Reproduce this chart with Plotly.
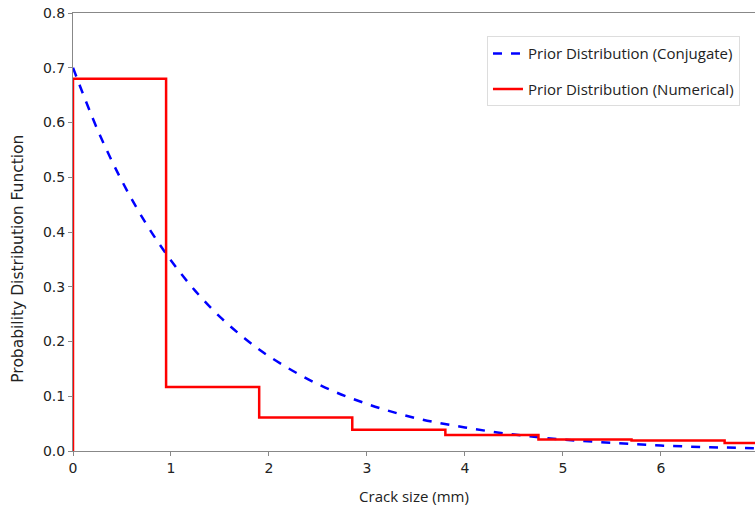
import plotly.graph_objects as go

# Prior distribution (conjugate)
conj_x = [0.0, 0.25, 0.5, 0.75, 1.0, 1.25, 1.5, 1.75, 2.0, 2.5, 3.0, 3.5, 4.0, 4.5, 5.0, 5.5, 6.0, 6.5, 7.0]
conj_y = [0.700, 0.587, 0.493, 0.414, 0.348, 0.292, 0.245, 0.206, 0.173, 0.122, 0.086,
          0.060, 0.043, 0.030, 0.021, 0.015, 0.010, 0.007, 0.005]

# Prior distribution (numerical) - step histogram
bin_edges = [0.0, 0.95, 1.9, 2.85, 3.8, 4.75, 5.7, 6.65, 7.6]
bin_heights = [0.680, 0.117, 0.061, 0.039, 0.029, 0.021, 0.019, 0.0145]

x_ticks = [0, 1, 2, 3, 4, 5, 6]
y_ticks = [0.0, 0.1, 0.2, 0.3, 0.4, 0.5, 0.6, 0.7, 0.8]

step_x = [bin_edges[0]] + bin_edges[:-1] + [bin_edges[-1]]
step_y = [0.0] + bin_heights + [bin_heights[-1]]

fig = go.Figure()
fig.add_trace(go.Scatter(
    x=conj_x, y=conj_y, mode="lines", line=dict(color="#0000FF", width=2.5, dash="dash", shape="spline"),
    name="Prior Distribution (Conjugate)", legendgroup="a"))
fig.add_trace(go.Scatter(
    x=step_x, y=step_y, mode="lines", line=dict(color="#FF0000", width=2.5, shape="hv"),
    name="Prior Distribution (Numerical)", legendgroup="b"))

axis_font = dict(family="DejaVu Sans", size=14, color="#222222")
fig.update_layout(
    width=755, height=508,
    margin=dict(l=73, r=0, t=13, b=57),
    paper_bgcolor="white", plot_bgcolor="white",
    showlegend=True,
    legend=dict(x=0.607, y=0.947, xanchor="left", yanchor="top",
                bgcolor="white", bordercolor="#dddddd", borderwidth=1,
                font=dict(family="Open Sans", size=15, color="#222222"),
                itemwidth=30, tracegroupgap=13),
    xaxis=dict(range=[0, 6.96], tickvals=x_ticks, ticktext=[str(v) for v in x_ticks],
               showgrid=False, zeroline=False, showline=True, linecolor="#888888", linewidth=1,
               mirror=True, ticks="outside", ticklen=4, tickcolor="#888888",
               tickfont=axis_font, ticklabeloverflow="allow", automargin=False,
               title=dict(text="Crack size (mm)", font=dict(family="Open Sans", size=15, color="#222222"), standoff=16)),
    yaxis=dict(range=[0, 0.8], tickvals=y_ticks, ticktext=[f"{v:.1f}" for v in y_ticks],
               showgrid=False, zeroline=False, showline=True, linecolor="#888888", linewidth=1,
               ticks="outside", ticklen=4, tickcolor="#888888",
               tickfont=axis_font, ticklabeloverflow="allow", automargin=False),
    annotations=[dict(text="Probability Distribution Function", textangle=-90,
                      xref="paper", yref="paper", x=-0.08, y=0.44,
                      xanchor="center", yanchor="middle", showarrow=False,
                      font=dict(family="DejaVu Sans", size=15.5, color="#222222"))],
)

fig.write_html("out.html", config={"displayModeBar": False},
               post_script="document.body.style.margin='0';document.body.style.overflow='hidden';")
